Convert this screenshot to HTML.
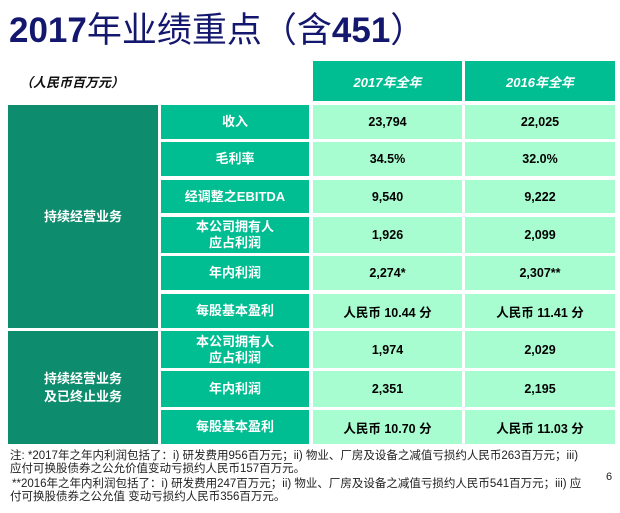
<!DOCTYPE html>
<html><head><meta charset="utf-8"><style>
body{margin:0;width:620px;height:513px;background:#fff;position:relative;overflow:hidden;font-family:"Liberation Sans","Noto Sans CJK SC",sans-serif}
.a{position:absolute;display:flex;align-items:center;justify-content:center;text-align:center;font-weight:bold;box-sizing:border-box}
.g{background:#0e8d6e;color:#fff;font-size:13px;line-height:18px}
.l{background:#00bd92;color:#fff;font-size:13px;line-height:16px}
.v{background:#a8fdd0;color:#000;font-size:12.5px}
.h{background:#00bd92;color:#fff;font-style:italic;font-size:13px}
.n{position:absolute;font-size:11.5px;color:#222;white-space:nowrap;line-height:12px}
</style></head><body>
<div style="position:absolute;left:9px;top:2px;font-size:35px;font-weight:bold;color:#13186e;white-space:nowrap">2017<span style="font-weight:normal">年业绩重点（含</span>451<span style="font-weight:normal">）</span></div>
<div style="position:absolute;left:20px;top:72px;font-size:13px;font-style:italic;font-weight:bold;color:#111">（人民币百万元）</div>
<div class="a h" style="left:313px;top:61px;width:149px;height:40px">2017年全年</div>
<div class="a h" style="left:465px;top:61px;width:150px;height:40px">2016年全年</div>

<div class="a g" style="left:8px;top:105px;width:150px;height:223px">持续经营业务</div>
<div class="a g" style="left:8px;top:331px;width:150px;height:113px">持续经营业务<br>及已终止业务</div>

<div class="a l" style="left:161px;top:105px;width:148px;height:34px">收入</div>
<div class="a l" style="left:161px;top:142px;width:148px;height:34px">毛利率</div>
<div class="a l" style="left:161px;top:180px;width:148px;height:33px">经调整之EBITDA</div>
<div class="a l" style="left:161px;top:217px;width:148px;height:36px">本公司拥有人<br>应占利润</div>
<div class="a l" style="left:161px;top:256px;width:148px;height:34px">年内利润</div>
<div class="a l" style="left:161px;top:294px;width:148px;height:34px">每股基本盈利</div>
<div class="a l" style="left:161px;top:331px;width:148px;height:37px">本公司拥有人<br>应占利润</div>
<div class="a l" style="left:161px;top:371px;width:148px;height:36px">年内利润</div>
<div class="a l" style="left:161px;top:410px;width:148px;height:34px">每股基本盈利</div>

<div class="a v" style="left:313px;top:105px;width:149px;height:34px">23,794</div>
<div class="a v" style="left:465px;top:105px;width:150px;height:34px">22,025</div>
<div class="a v" style="left:313px;top:142px;width:149px;height:34px">34.5%</div>
<div class="a v" style="left:465px;top:142px;width:150px;height:34px">32.0%</div>
<div class="a v" style="left:313px;top:180px;width:149px;height:33px">9,540</div>
<div class="a v" style="left:465px;top:180px;width:150px;height:33px">9,222</div>
<div class="a v" style="left:313px;top:217px;width:149px;height:36px">1,926</div>
<div class="a v" style="left:465px;top:217px;width:150px;height:36px">2,099</div>
<div class="a v" style="left:313px;top:256px;width:149px;height:34px">2,274*</div>
<div class="a v" style="left:465px;top:256px;width:150px;height:34px">2,307**</div>
<div class="a v" style="left:313px;top:294px;width:149px;height:34px">人民币 10.44 分</div>
<div class="a v" style="left:465px;top:294px;width:150px;height:34px">人民币 11.41 分</div>
<div class="a v" style="left:313px;top:331px;width:149px;height:37px">1,974</div>
<div class="a v" style="left:465px;top:331px;width:150px;height:37px">2,029</div>
<div class="a v" style="left:313px;top:371px;width:149px;height:36px">2,351</div>
<div class="a v" style="left:465px;top:371px;width:150px;height:36px">2,195</div>
<div class="a v" style="left:313px;top:410px;width:149px;height:34px">人民币 10.70 分</div>
<div class="a v" style="left:465px;top:410px;width:150px;height:34px">人民币 11.03 分</div>

<div class="n" style="left:10px;top:450px">注: *2017年之年内利润包括了：i) 研发费用956百万元；ii) 物业、厂房及设备之减值亏损约人民币263百万元；iii)</div>
<div class="n" style="left:10px;top:463px">应付可换股债券之公允价值变动亏损约人民币157百万元。</div>
<div class="n" style="left:12px;top:478px">**2016年之年内利润包括了：i) 研发费用247百万元；ii) 物业、厂房及设备之减值亏损约人民币541百万元；iii) 应</div>
<div class="n" style="left:10px;top:491px">付可换股债券之公允值 变动亏损约人民币356百万元。</div>
<div style="position:absolute;left:606px;top:471px;font-size:11px;color:#222">6</div>
</body></html>
